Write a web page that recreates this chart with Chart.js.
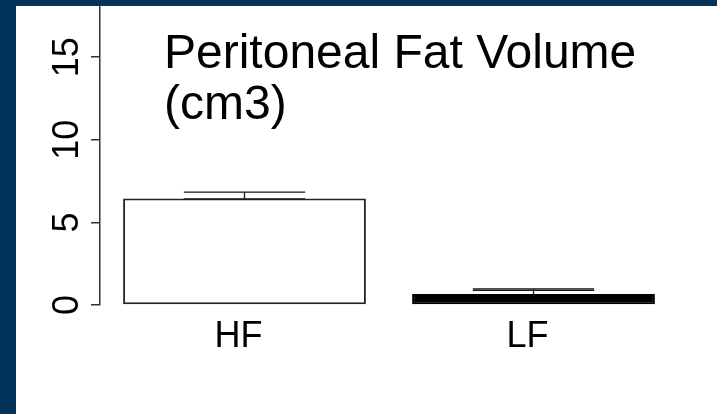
<!DOCTYPE html>
<html>
<head>
<meta charset="utf-8">
<script src="https://cdn.jsdelivr.net/npm/chart.js@4/dist/chart.umd.min.js"></script>
<style>
  html, body { margin: 0; padding: 0; background: #02335a; }
  #wrap { position: absolute; left: 0; top: 0; width: 717px; height: 414px; }
</style>
</head>
<body>
<div id="wrap"><canvas id="c" width="717" height="414"></canvas></div>
<script>
// Group labels and mean values
const categories = ["HF", "LF"];
const meanVolume = [6.45, 0.67];
// Upper / lower ends of the error whiskers
const errHigh = [6.83, 0.98];
const errLow = [6.42, 0.88];
// y axis ticks
const yTicks = [0, 5, 10, 15];
const titleLines = ["Peritoneal Fat Volume", "(cm3)"];

const FONT = '"Liberation Sans", Arial, sans-serif';

// Navy frame with a white panel
const framePlugin = {
  id: 'frame',
  beforeDraw(chart) {
    const ctx = chart.ctx;
    ctx.save();
    ctx.fillStyle = '#02335a';
    ctx.fillRect(0, 0, chart.width, chart.height);
    ctx.fillStyle = '#ffffff';
    ctx.fillRect(16, 6, chart.width - 16, chart.height - 6);
    ctx.restore();
  }
};

// Error whiskers: stem plus two caps half as wide as the bar
const errorPlugin = {
  id: 'errbars',
  afterDatasetsDraw(chart) {
    const ctx = chart.ctx;
    const y = chart.scales.y;
    const meta = chart.getDatasetMeta(0);
    ctx.save();
    ctx.strokeStyle = '#1a1a1a';
    ctx.lineWidth = 1.3;
    meta.data.forEach((bar, i) => {
      const half = bar.width * 0.25;
      const yh = y.getPixelForValue(errHigh[i]);
      const yl = y.getPixelForValue(errLow[i]);
      ctx.beginPath();
      ctx.moveTo(bar.x - half, yh); ctx.lineTo(bar.x + half, yh);
      ctx.moveTo(bar.x, yh); ctx.lineTo(bar.x, bar.y);
      ctx.moveTo(bar.x - half, yl); ctx.lineTo(bar.x + half, yl);
      ctx.stroke();
    });
    ctx.restore();
  }
};

// Rotated y tick labels, category labels and the two-line title
const labelPlugin = {
  id: 'labels',
  afterDraw(chart) {
    const ctx = chart.ctx;
    const y = chart.scales.y;
    const x = chart.scales.x;
    ctx.save();
    ctx.fillStyle = '#000';
    ctx.font = '36px ' + FONT;
    yTicks.forEach(v => {
      const py = y.getPixelForValue(v);
      ctx.save();
      ctx.translate(78, py);
      ctx.rotate(-Math.PI / 2);
      ctx.textAlign = 'center';
      ctx.textBaseline = 'alphabetic';
      ctx.fillText(String(v), 0, 0);
      ctx.restore();
    });
    ctx.textAlign = 'center';
    ctx.textBaseline = 'alphabetic';
    categories.forEach((c, i) => {
      ctx.fillText(c, x.getPixelForValue(i) - 6, 347);
    });
    ctx.font = '48px ' + FONT;
    ctx.textAlign = 'left';
    ctx.fillText(titleLines[0], 164, 68);
    ctx.fillText(titleLines[1], 164, 119);
    ctx.restore();
  }
};

new Chart(document.getElementById('c'), {
  type: 'bar',
  data: {
    labels: categories,
    datasets: [{
      data: meanVolume,
      backgroundColor: ['#ffffff', '#000000'],
      borderColor: ['#222222', '#000000'],
      borderWidth: 2,
      borderSkipped: false,
      barPercentage: 0.84,
      categoryPercentage: 1.0
    }]
  },
  options: {
    responsive: false,
    animation: false,
    devicePixelRatio: 1,
    layout: { padding: { left: 91, top: 6, right: 39, bottom: 109 } },
    plugins: { legend: { display: false }, tooltip: { enabled: false }, title: { display: false } },
    scales: {
      x: { display: false },
      y: {
        min: 0,
        max: 18.1,
        afterFit(scale) { scale.width = 9; },
        afterBuildTicks(scale) { scale.ticks = yTicks.map(v => ({ value: v })); },
        ticks: { display: false },
        grid: { drawOnChartArea: false, drawTicks: true, tickLength: 9, color: '#333333', lineWidth: 1.5 },
        border: { display: true, color: '#333333', width: 1.5 }
      }
    }
  },
  plugins: [framePlugin, errorPlugin, labelPlugin]
});
</script>
</body>
</html>
